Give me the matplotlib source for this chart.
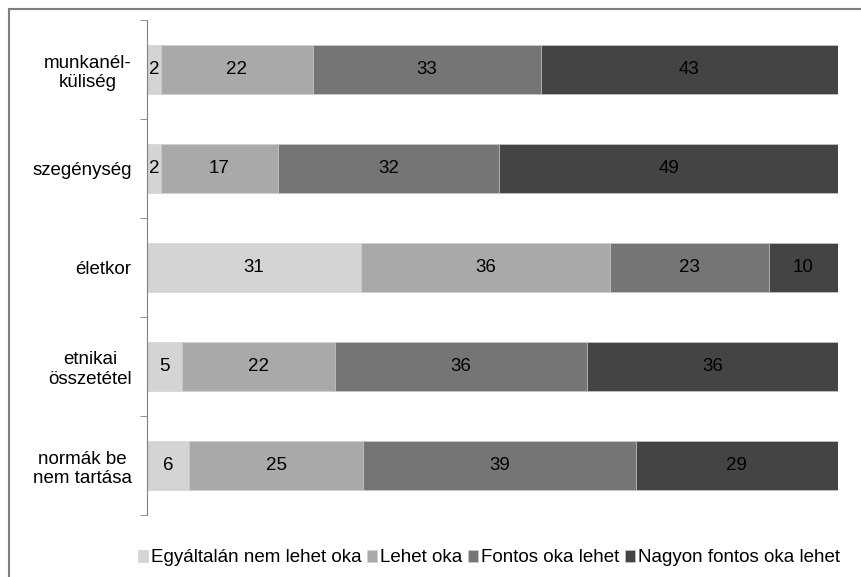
import matplotlib
matplotlib.use("Agg")
import matplotlib.pyplot as plt
from matplotlib.lines import Line2D

plt.rcParams['font.family'] = ['Liberation Sans', 'DejaVu Sans']

categories = ["munkanél-\nküliség", "szegénység", "életkor",
              "etnikai\nösszetétel", "normák be\nnem tartása"]
series_names = ["Egyáltalán nem lehet oka", "Lehet oka",
                "Fontos oka lehet", "Nagyon fontos oka lehet"]
egyaltalan = [2, 2, 31, 5, 6]
lehet = [22, 17, 36, 22, 25]
fontos = [33, 32, 23, 36, 39]
nagyon = [43, 49, 10, 36, 29]
colors = ["#d4d4d4", "#a9a9a9", "#757575", "#444444"]

series = [egyaltalan, lehet, fontos, nagyon]
totals = [sum(s[i] for s in series) for i in range(len(categories))]

fig = plt.figure(figsize=(8.61, 5.77), dpi=100)
ax = fig.add_axes([147 / 861, 1 - 515 / 577, (838 - 147) / 861, (515 - 20) / 577])

ypos = list(range(len(categories)))
left = [0.0] * len(categories)
for vals, name, col in zip(series, series_names, colors):
    widths = [v / t * 100 for v, t in zip(vals, totals)]
    ax.barh(ypos, widths, left=left, height=0.5, color=col, label=name,
            edgecolor="#cfcfcf", linewidth=0.4)
    for y, l, w, v in zip(ypos, left, widths, vals):
        ax.text(l + w / 2, y, str(v), ha="center", va="center",
                fontsize=13.5, color="black")
    left = [l + w for l, w in zip(left, widths)]

ax.set_xlim(0, 100)
ax.set_ylim(len(categories) - 0.5, -0.5)
ax.set_yticks(ypos)
ax.set_yticklabels(categories, fontsize=13.5, multialignment="center")
ax.tick_params(axis="y", which="major", length=0, pad=11)
ax.set_yticks([i - 0.5 for i in range(len(categories) + 1)], minor=True)
ax.tick_params(axis="y", which="minor", length=5, color="#808080")
ax.set_xticks([])
for sp in ["top", "right", "bottom"]:
    ax.spines[sp].set_visible(False)
ax.spines["left"].set_color("#808080")

leg = fig.legend(loc="center", bbox_to_anchor=(0.568, 1 - 558 / 577), ncol=4,
                 frameon=False, fontsize=13.5, handlelength=0.55,
                 handleheight=0.55, handletextpad=0.15, columnspacing=0.3)

# outer chart frame (only top and left edges visible in the crop)
fig.add_artist(Line2D([9 / 861, 9 / 861], [0, 1 - 9 / 577],
                      transform=fig.transFigure, color="#7f7f7f", lw=1.5))
fig.add_artist(Line2D([9 / 861, 1], [1 - 9 / 577, 1 - 9 / 577],
                      transform=fig.transFigure, color="#7f7f7f", lw=1.5))

fig.savefig("out.png", dpi=100)
